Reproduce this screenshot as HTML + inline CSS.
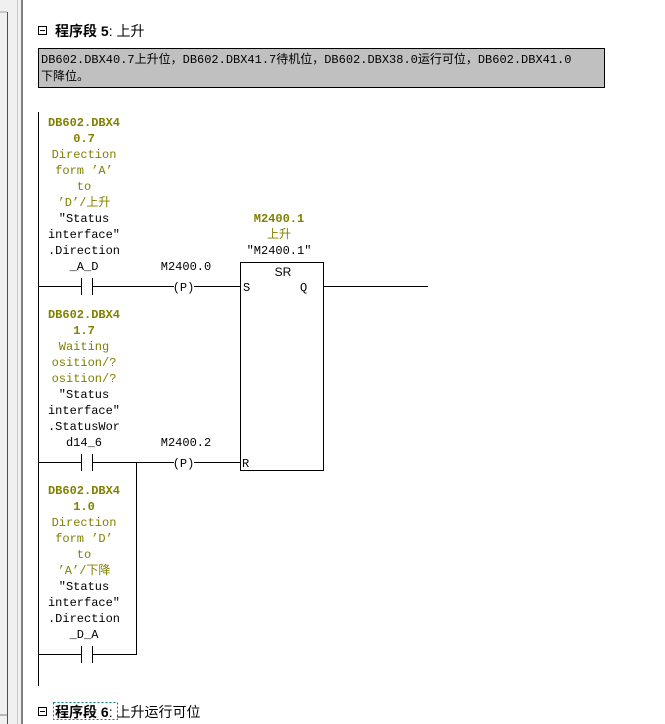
<!DOCTYPE html>
<html><head><meta charset="utf-8"><style>
html,body{margin:0;padding:0;background:#fff;width:665px;height:724px;overflow:hidden}
svg{display:block}
.m{font-family:"Liberation Mono","Noto Sans CJK SC",monospace;font-size:12px}
.s{font-family:"Liberation Sans","Noto Sans CJK SC",sans-serif}
.ad{fill:#808000;font-weight:bold}
.cm{fill:#808000}
.sy{fill:#000}
</style></head><body>
<svg width="665" height="724" xmlns="http://www.w3.org/2000/svg">
<rect x="0" y="0" width="23" height="724" fill="#f0f0f0"/>
<line x1="0" y1="12" x2="7" y2="12" stroke="#a0a0a0"/>
<line x1="7.5" y1="12" x2="7.5" y2="724" stroke="#505050"/>
<line x1="17.5" y1="0" x2="17.5" y2="724" stroke="#c8c8c8"/>
<line x1="22" y1="0" x2="22" y2="724" stroke="#808080" stroke-width="2"/>
<line x1="0" y1="715" x2="7" y2="715" stroke="#808080"/>

<!-- header -->
<rect x="38.5" y="26.5" width="8" height="8" fill="#fff" stroke="#000"/>
<line x1="40" y1="30.5" x2="45" y2="30.5" stroke="#000"/>
<text x="55" y="36" class="s" font-size="14" font-weight="bold">程序段 5<tspan font-weight="normal">: 上升</tspan></text>
<rect x="38.5" y="48.5" width="566" height="39" fill="#c0c0c0" stroke="#000"/>
<text x="41" y="63" class="m" font-size="12.9">DB602.DBX40.7上升位，DB602.DBX41.7待机位，DB602.DBX38.0运行可位，DB602.DBX41.0</text>
<text x="41" y="80" class="m" font-size="12.9">下降位。</text>

<!-- rail -->
<g stroke="#000" stroke-width="1" fill="none">
<line x1="38.5" y1="112" x2="38.5" y2="686"/>
<!-- rung1 -->
<line x1="38" y1="286.5" x2="81" y2="286.5"/>
<line x1="81.5" y1="278" x2="81.5" y2="295"/>
<line x1="92.5" y1="278" x2="92.5" y2="295"/>
<line x1="92" y1="286.5" x2="174" y2="286.5"/>
<line x1="194" y1="286.5" x2="240" y2="286.5"/>
<rect x="240.5" y="262.5" width="83" height="208"/>
<line x1="323" y1="286.5" x2="428" y2="286.5"/>
<!-- rung2 -->
<line x1="38" y1="462.5" x2="81" y2="462.5"/>
<line x1="81.5" y1="454" x2="81.5" y2="471"/>
<line x1="92.5" y1="454" x2="92.5" y2="471"/>
<line x1="92" y1="462.5" x2="174" y2="462.5"/>
<line x1="194" y1="462.5" x2="240" y2="462.5"/>
<line x1="136.5" y1="462" x2="136.5" y2="655"/>
<!-- rung3 -->
<line x1="38" y1="654.5" x2="81" y2="654.5"/>
<line x1="81.5" y1="646" x2="81.5" y2="663"/>
<line x1="92.5" y1="646" x2="92.5" y2="663"/>
<line x1="92" y1="654.5" x2="137" y2="654.5"/>
</g>
<text x="183.5" y="291" class="m" text-anchor="middle">(P)</text>
<text x="183.5" y="467" class="m" text-anchor="middle">(P)</text>
<text x="283" y="276" class="s" font-size="12" text-anchor="middle">SR</text>
<text x="243" y="291" class="m">S</text>
<text x="300" y="291" class="m">Q</text>
<text x="242" y="467" class="m">R</text>

<g class="m" text-anchor="middle">
<text x="84" y="126" class="ad">DB602.DBX4</text>
<text x="84" y="142" class="ad">0.7</text>
<text x="84" y="158" class="cm">Direction</text>
<text x="84" y="174" class="cm">form ’A’</text>
<text x="84" y="190" class="cm">to</text>
<text x="84" y="206" class="cm">’D’/上升</text>
<text x="84" y="222" class="sy">″Status</text>
<text x="84" y="238" class="sy">interface″</text>
<text x="84" y="254" class="sy">.Direction</text>
<text x="84" y="270" class="sy">_A_D</text>

<text x="84" y="318" class="ad">DB602.DBX4</text>
<text x="84" y="334" class="ad">1.7</text>
<text x="84" y="350" class="cm">Waiting</text>
<text x="84" y="366" class="cm">osition/?</text>
<text x="84" y="382" class="cm">osition/?</text>
<text x="84" y="398" class="sy">″Status</text>
<text x="84" y="414" class="sy">interface″</text>
<text x="84" y="430" class="sy">.StatusWor</text>
<text x="84" y="446" class="sy">d14_6</text>

<text x="84" y="494" class="ad">DB602.DBX4</text>
<text x="84" y="510" class="ad">1.0</text>
<text x="84" y="526" class="cm">Direction</text>
<text x="84" y="542" class="cm">form ’D’</text>
<text x="84" y="558" class="cm">to</text>
<text x="84" y="574" class="cm">’A’/下降</text>
<text x="84" y="590" class="sy">″Status</text>
<text x="84" y="606" class="sy">interface″</text>
<text x="84" y="622" class="sy">.Direction</text>
<text x="84" y="638" class="sy">_D_A</text>

<text x="186" y="270" class="sy">M2400.0</text>
<text x="186" y="446" class="sy">M2400.2</text>
<text x="279" y="222" class="ad">M2400.1</text>
<text x="279" y="238" class="cm">上升</text>
<text x="279" y="254" class="sy">″M2400.1″</text>
</g>
<line x1="38.5" y1="27" x2="38.5" y2="35" stroke="#000"/>
<line x1="38.5" y1="48" x2="38.5" y2="88" stroke="#000"/>

<!-- footer -->
<rect x="38.5" y="707.5" width="8" height="8" fill="#fff" stroke="#000"/>
<line x1="40" y1="711.5" x2="45" y2="711.5" stroke="#000"/>
<rect x="53.5" y="702.5" width="64" height="17" fill="none" stroke="#008080" stroke-dasharray="2,2"/>
<text x="55" y="717" class="s" font-size="14" font-weight="bold">程序段 6<tspan font-weight="normal">: 上升运行可位</tspan></text>
</svg>
</body></html>
